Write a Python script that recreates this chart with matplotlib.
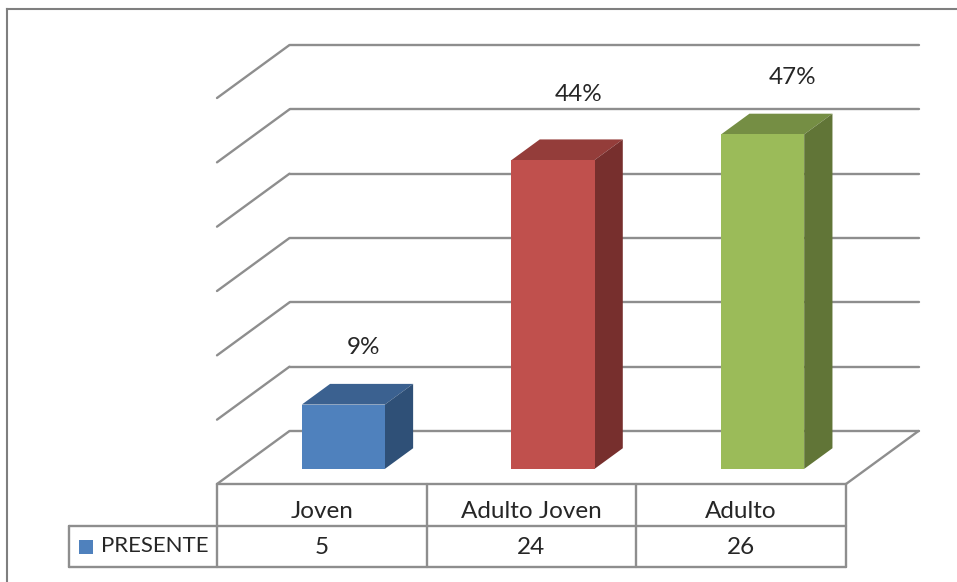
import matplotlib
matplotlib.use("Agg")
import matplotlib.pyplot as plt
from matplotlib.lines import Line2D
from matplotlib.patches import Polygon, Rectangle

# chart data
categories = ["Joven", "Adulto Joven", "Adulto"]
values = [5, 24, 26]
percents = ["9%", "44%", "47%"]
series_name = "PRESENTE"
grid_values = [0, 5, 10, 15, 20, 25, 30]

# colours of each bar: front, top, side
front_colors = ["#4F81BD", "#C0504D", "#9BBB59"]
top_colors = ["#3B6190", "#943D3A", "#758E44"]
side_colors = ["#2F5077", "#772F2D", "#617537"]
line_color = "#8E8E8E"
text_color = "#262626"

W, H = 957, 582
plt.rcParams["font.family"] = ["Lato", "DejaVu Sans"]

fig = plt.figure(figsize=(W / 100, H / 100), dpi=100, facecolor="white")

# axes runs over the front edge of the floor, 0 to 30 at depth zero
left, right, bottom, top = 217, 846, 484, 98
ax = fig.add_axes([left / W, 1 - bottom / H, (right - left) / W, (bottom - top) / H])
ax.set_xlim(0, len(categories))
ax.set_ylim(0, 30)
ax.axis("off")

# how far one full step of depth moves a point, in data units
depth_x = 72.5 / ((right - left) / 3)
depth_y = 53 / ((bottom - top) / 30)


def project(x, y, d):
    return (x + depth_x * d, y + depth_y * d)


def wall_line(p1, p2, z=1):
    ax.add_line(Line2D([p1[0], p2[0]], [p1[1], p2[1]], color=line_color, lw=1.7,
                       clip_on=False, zorder=z, solid_capstyle="round"))


# gridlines on the side and back wall
n = len(categories)
for g in grid_values:
    wall_line(project(0, g, 0), project(0, g, 1))
    wall_line(project(0, g, 1), project(n, g, 1))
wall_line(project(n, 0, 0), project(n, 0, 1))

# bars
gap = 0.306
bar_w = 0.396
d0, d1 = 0.285, 0.675
label_lift = [4.4, 5.1, 4.4]  # label height above the bar, in data units
label_shift = [0.095, 0.12, 0.143]  # label offset to the right, in categories
for i, v in enumerate(values):
    x0, x1 = i + gap, i + gap + bar_w
    ax.add_patch(Polygon([project(x0, v, d0), project(x1, v, d0),
                          project(x1, v, d1), project(x0, v, d1)],
                         fc=top_colors[i], ec="none", clip_on=False, zorder=3))
    ax.add_patch(Polygon([project(x1, 0, d0), project(x1, v, d0),
                          project(x1, v, d1), project(x1, 0, d1)],
                         fc=side_colors[i], ec="none", clip_on=False, zorder=3))
    ax.add_patch(Polygon([project(x0, 0, d0), project(x1, 0, d0),
                          project(x1, v, d0), project(x0, v, d0)],
                         fc=front_colors[i], ec="none", clip_on=False, zorder=4))
    lx, ly = project((x0 + x1) / 2, v + label_lift[i], d0)
    ax.text(lx + label_shift[i], ly, percents[i], ha="center", va="center", fontsize=17.5,
            color=text_color, zorder=5)

# data table under the chart
row_h = 41.5 / ((bottom - top) / 30)
legend_x = -(left - 69) / ((right - left) / 3)
wall_line((0, 0), (n, 0), 2)
wall_line((legend_x, -row_h), (n, -row_h), 2)
wall_line((legend_x, -2 * row_h), (n, -2 * row_h), 2)
wall_line((legend_x, -row_h), (legend_x, -2 * row_h), 2)
for i in range(n + 1):
    wall_line((i, 0), (i, -2 * row_h), 2)
for i, c in enumerate(categories):
    ax.text(i + 0.5, -row_h * 0.66, c, ha="center", va="center", fontsize=17.5,
            color=text_color, clip_on=False)
    ax.text(i + 0.5, -row_h * 1.53, str(values[i]), ha="center", va="center",
            fontsize=17.5, color=text_color, clip_on=False)

# legend key and name in the table
fig.add_artist(Rectangle((79 / W, 1 - 554 / H), 14 / W, 14 / H, fc=front_colors[0], ec="none",
                         transform=fig.transFigure))
fig.text(101 / W, 1 - 546.5 / H, series_name, ha="left", va="center", fontsize=16, color=text_color)

# chart frame, only left and top edges show
frame_color = "#7F7F7F"
fig.add_artist(Line2D([7.5 / W, 7.5 / W], [0, 1 - 9 / H], color=frame_color, lw=1.5))
fig.add_artist(Line2D([7.5 / W, 1], [1 - 9 / H, 1 - 9 / H], color=frame_color, lw=1.5))

fig.savefig("out.png", dpi=100, facecolor="white")
